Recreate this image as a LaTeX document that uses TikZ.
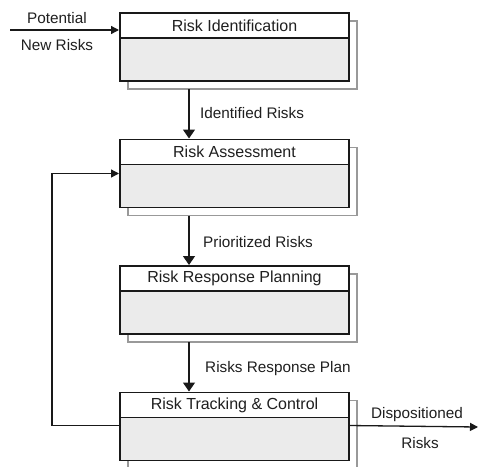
\documentclass[tikz,border=0pt]{standalone}
\usepackage{fontspec}
\setmainfont{Liberation Sans}
\usetikzlibrary{arrows.meta,calc}
\begin{document}
\begin{tikzpicture}[x=1pt,y=-1pt,
  titlebox/.style={draw=black!90,line width=1.8pt,fill=white,minimum width=229pt,minimum height=25pt,anchor=north west,inner sep=0pt,outer sep=0pt,font=\fontsize{16}{18}\selectfont,text=black!88},
  bodybox/.style={draw=black!90,line width=1.8pt,fill=black!8,minimum width=229pt,minimum height=43pt,anchor=north west,inner sep=0pt,outer sep=0pt},
  shadowbox/.style={draw=black!40,line width=1.4pt,fill=white,minimum width=229pt,minimum height=68pt,anchor=north west,inner sep=0pt,outer sep=0pt},
  lbl/.style={font=\fontsize{15.3}{17}\selectfont,text=black!88,inner sep=0pt},
  arr/.style={line width=1.3pt,draw=black!90,-{Triangle[length=9pt,width=12pt]}},
  harr/.style={line width=1.3pt,draw=black!90,-{Triangle[length=8pt,width=8pt]}}
]
\useasboundingbox (0,0) rectangle (478,466);
\fill[white] (0,0) rectangle (478,466);
% shadows
\node[shadowbox] (s1) at (128,21) {};
\node[shadowbox] (s2) at (128,147.5) {};
\node[shadowbox] (s3) at (128,274) {};
\node[shadowbox] (s4) at (128,400.5) {};
% boxes
\node[titlebox] (t1) at (120,13) {Risk Identification};
\node[bodybox] (b1) at (t1.south west) {};
\node[titlebox] (t2) at (120,139.5) {Risk Assessment};
\node[bodybox] (b2) at (t2.south west) {};
\node[titlebox] (t3) at (120,266) {Risk Response Planning};
\node[bodybox] (b3) at (t3.south west) {};
\node[titlebox] (t4) at (120,392.5) {Risk Tracking \& Control};
\node[bodybox] (b4) at (t4.south west) {};
% down arrows
\draw[arr] ($(s1.south west)+(61,0)$) -- ($(t2.north west)+(69,-1)$);
\draw[arr] ($(s2.south west)+(61,0)$) -- ($(t3.north west)+(69,-1)$);
\draw[arr] ($(s3.south west)+(61,0)$) -- ($(t4.north west)+(69,-1)$);
\node[lbl,anchor=west] (l1) at (200,113) {Identified Risks};
\node[lbl,anchor=west] (l2) at (203,242) {Prioritized Risks};
\node[lbl,anchor=west] (l3) at (205,369) {Risks Response Plan};
% input
\coordinate (pin) at (10,30);
\draw[harr] (pin) -- ($(t1.north west)+(-1,17)$);
\node[lbl] (lp1) at (57,18) {Potential};
\node[lbl] (lp2) at (57,45) {New Risks};
% feedback
\coordinate (fb) at (52,0);
\draw[harr] ($(b4.north west)+(0,8)$) -| (fb |- {$(b2.north west)+(0,9)$}) -- ($(b2.north west)+(-1,9)$);
% output
\coordinate (out) at (478,427);
\draw[harr] ($(b4.north east)+(0,8)$) -- (out);
\node[lbl] (ld1) at (417,415) {Dispositioned};
\node[lbl] (ld2) at (420,443) {Risks};
\end{tikzpicture}
\end{document}
